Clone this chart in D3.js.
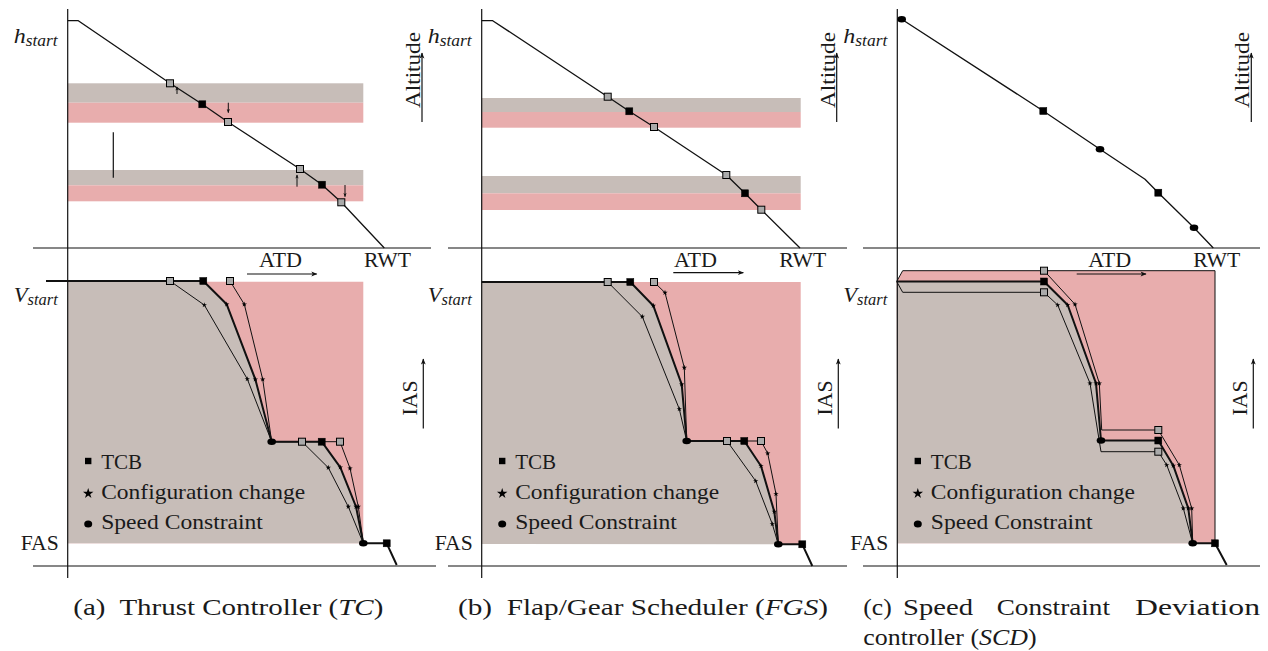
<!DOCTYPE html>
<html>
<head>
<meta charset="utf-8">
<script src="https://cdn.jsdelivr.net/npm/d3@7/dist/d3.min.js"></script>
<style>
  html, body { margin: 0; padding: 0; background: #fff; }
  svg { display: block; }
  text { font-family: "Liberation Serif", "Times New Roman", serif; fill: #1a1a1a; white-space: pre; }
</style>
</head>
<body>
<svg id="chart" width="1268" height="651"></svg>
<script>
// ---------------- DATA (ATD units along x, altitude / IAS units along y) ----------------
// Altitude profiles (top row)
const altProfileA = [[0,227.3],[10.6,227.3],[102.3,164.7],[134.6,143.7],[160.3,126],[232.3,79],[254.3,63.3],[273.6,45.7],[316.6,0]];
const altMarksA   = [[102.3,164.7,"G"],[134.6,143.7,"B"],[160.3,126,"G"],[232.3,79,"G"],[254.3,63.3,"B"],[273.6,45.7,"G"]];
const altProfileB = [[0,227.3],[11,227.3],[126,151.3],[147.6,136.7],[172.3,121],[244.6,73],[263.3,54.7],[279.6,38.3],[318.3,0]];
const altMarksB   = [[126,151.3,"G"],[147.6,136.7,"B"],[172.3,121,"G"],[244.6,73,"G"],[263.3,54.7,"B"],[279.6,38.3,"G"]];
const altProfileC = [[4.4,228.7],[146,137],[202.7,98.7],[247.7,68.7],[261,55.3],[296.7,20.3],[316,0]];
const altMarksC   = [[4.4,228.7,"C"],[146,137,"B"],[202.7,98.7,"C"],[261,55.3,"B"],[296.7,20.3,"C"]];

// Altitude bands [from, to, kind]  (kind: "before" = grey part, "after" = red part)
const bandsA = [[164.7,145.3,"before"],[145.3,125.3,"after"],[78,62.7,"before"],[62.7,46.7,"after"]];
const bandsB = [[150,136,"before"],[136,120.3,"after"],[72,54.7,"before"],[54.7,38,"after"]];
const bandEnd = [295.6, 319, 0];

// Small thrust-adjust arrows in (a): [atd, fromAlt, toAlt]
const thrustArrowsA = [[109.3,154,161],[160.6,145.3,135.3],[229.3,61.3,73],[277.3,63,51.3]];
const tickLineA = [45.6,115.7,70.3];

// IAS profiles (bottom row): [atd, ias, marker]
const iasMidA   = [[-21.7,285,""],[135.6,285,"B"],[159,261.7,"S"],[187.6,186.7,"S"],[204,124.3,"C"],[254,124.3,"B"],[272.6,98.7,"S"],[288.3,59.3,"S"],[295.6,22.7,"C"],[319,22.7,"B"],[329,1,""]];
const iasEarlyA = [[102.3,285,"G"],[136.6,261,"S"],[179.6,187,"S"],[204,124.3,""],[234.3,124.3,"G"],[260.6,98.3,"S"],[280.6,59.3,"S"],[295.6,22.7,""]];
const iasLateA  = [[162.3,285,"G"],[176.6,261.7,"S"],[195,186.7,"S"],[204,124.3,""],[272.3,124.3,"G"],[282.3,97.7,"S"],[290.6,59.3,"S"],[295.6,22.7,""]];

const iasMidB   = [[0,284,""],[148.6,284,"B"],[171.6,260.3,"S"],[200,181.7,"S"],[205,125,"C"],[262.6,125,"B"],[279.3,100,"S"],[292.6,54.3,"S"],[296.6,21.7,"C"],[320.6,21.7,"B"],[330.6,0,""]];
const iasEarlyB = [[126,284,"G"],[160.6,249.3,"S"],[197.6,157,"S"],[205,125,""],[245.3,125,"G"],[274,85,"S"],[290.6,42,"S"],[296.6,21.7,""]];
const iasLateB  = [[172.3,284,"G"],[183.3,273.3,"S"],[202.6,198.3,"S"],[205,125,""],[279.3,125,"G"],[286,112.7,"S"],[294.3,72,"S"],[296.6,21.7,""]];

const iasMidC   = [[-0.6,284.5,""],[146.7,284.5,"B"],[170.4,261,"S"],[198.7,182.7,"S"],[203.7,125.5,"C"],[261,125.5,"B"],[276,100.3,"S"],[291,57.7,"S"],[295.4,22.7,"C"],[317.7,22.7,"B"],[329.4,1,""]];
const iasUpperC = [[-0.6,284.5,""],[5.4,295.3,""],[146.7,295.3,"G"],[177.7,261.7,"S"],[202,182.7,"S"],[204.4,136,""],[261,136,"G"],[282,101,"S"],[294.4,57.7,"S"],[295.4,22.7,""]];
const iasLowerC = [[-0.6,284.5,""],[5.4,273.7,""],[146.7,273.7,"G"],[160.4,261,"S"],[192.7,182.7,"S"],[203.7,114.3,""],[261,114.3,"G"],[269.4,101,"S"],[286,57.7,"S"],[295.4,22.7,""]];
const envelopeC = [[146.7,295.3],[317.7,295.3],[317.7,22.7]];

// envelope extents per panel: [rightATD, topIAS, bottomIAS]
const envA = [295.6, 284.3, 22.7];
const envB = [319, 284, 22];
const envC = [317.7, 295.3, 22.7];

const legendLabels = ["TCB", "Configuration change", "Speed Constraint"];
const legendTypes  = ["B", "S", "C"];
const captionLetters = ["(a)", "(b)", "(c)"];
const captionTitles = ["Thrust Controller", "Flap/Gear Scheduler", "Speed Constraint Deviation controller"];
const captionAbbr = ["TC", "FGS", "SCD"];

// ---------------- DRAWING ----------------
const svg = d3.select("#chart");
const PINK = "#e8adad", GREY = "#c7bdb8";

const defs = svg.append("defs");
function mkArrow(id, len, w) {
  defs.append("marker").attr("id", id).attr("viewBox", "0 0 10 10")
    .attr("refX", 9).attr("refY", 5).attr("markerUnits", "userSpaceOnUse")
    .attr("markerWidth", len).attr("markerHeight", w).attr("orient", "auto")
    .append("path").attr("d", "M0,1 L10,5 L0,9 L2.5,5 Z").attr("fill", "#111");
}
mkArrow("ah", 7, 6);
mkArrow("ahs", 4.5, 4);

const axisX = [67.7, 481.7, 897.3];
const axisSpan = [[33, 431], [448, 847], [863, 1260]];
const yAlt = d3.scaleLinear().domain([0, 240]).range([248, 8]);
const yIas = d3.scaleLinear().domain([0, 300]).range([566, 266]);

function xs(i) { return d3.scaleLinear().domain([0, 300]).range([axisX[i], axisX[i] + 300]); }
function fit(sel, len) { return sel.attr("textLength", len).attr("lengthAdjust", "spacingAndGlyphs"); }

function poly(g, pts, x, y, fill) {
  g.append("path").attr("d", d3.line().x(d => x(d[0])).y(d => y(d[1]))(pts) + "Z")
    .attr("fill", fill).attr("stroke", "none");
}
function line(g, pts, x, y, w) {
  g.append("path").attr("d", d3.line().x(d => x(d[0])).y(d => y(d[1]))(pts))
    .attr("fill", "none").attr("stroke", "#111").attr("stroke-width", w).attr("stroke-linejoin", "round");
}
function marker(g, cx, cy, type, big) {
  if (type === "B" || type === "G") {
    const s = 7;
    g.append("rect").attr("x", cx - s / 2).attr("y", cy - s / 2).attr("width", s).attr("height", s)
      .attr("fill", type === "B" ? "#000" : "#aaaaaa").attr("stroke", "#000").attr("stroke-width", type === "B" ? 0.5 : 1);
  } else if (type === "C") {
    g.append("ellipse").attr("cx", cx).attr("cy", cy).attr("rx", big ? 4 : 4.3).attr("ry", big ? 3.6 : 3.3).attr("fill", "#000");
  } else if (type === "S") {
    g.append("path").attr("d", d3.symbol().type(d3.symbolStar).size(big ? 34 : 9)())
      .attr("transform", `translate(${cx},${cy})`).attr("fill", "#000");
  }
}
function marks(g, pts, x, y) {
  pts.forEach(p => { if (p[2]) marker(g, x(p[0]), y(p[1]), p[2], false); });
}

function label(g, x, main, sub, baseline) {
  const t = g.append("text").attr("x", x).attr("y", baseline).attr("text-anchor", "end");
  t.append("tspan").attr("font-style", "italic").attr("font-size", 22).text(main);
  t.append("tspan").attr("font-style", "italic").attr("font-size", 16).attr("dy", 2.5).text(sub);
  fit(t, 44);
}

const altProfiles = [altProfileA, altProfileB, altProfileC];
const altMarks = [altMarksA, altMarksB, altMarksC];
const bands = [bandsA, bandsB, null];
const iasMain = [iasMidA, iasMidB, iasMidC];
const iasOthers = [[iasEarlyA, iasLateA], [iasEarlyB, iasLateB], [iasUpperC, iasLowerC]];
const envs = [envA, envB, envC];
const atdLabel = [[191.3, 179.3, 249, 274], [192.3, 191.6, 261.6, 272.7], [191, 179.4, 248.7, 274]];
const rwtX = [296.3, 297.6, 296];
const altTextX = [419.5, 835, 1248.5];
const altArrowX = [422, 836.7, 1251.3];
const iasTextX = [416.5, 831.7, 1246.7];
const iasArrowX = [423.3, 838.3, 1253.3];
const legendWidths = [41, 204, 161.7];

for (let i = 0; i < 3; i++) {
  const g = svg.append("g");
  const x = xs(i);

  // ---- top: altitude bands ----
  if (bands[i]) {
    bands[i].forEach(b => {
      g.append("rect").attr("x", x(0)).attr("width", x(bandEnd[i]) - x(0))
        .attr("y", yAlt(b[0])).attr("height", yAlt(b[1]) - yAlt(b[0]))
        .attr("fill", b[2] === "before" ? GREY : PINK);
    });
  }

  // ---- bottom: IAS envelope fills ----
  const env = envs[i];
  if (i < 2) {
    poly(g, [[0, env[1]], [env[0], env[1]], [env[0], env[2]], [0, env[2]]], x, yIas, PINK);
    const mid = iasMain[i].filter(p => p[0] >= 0);
    const end = mid.findIndex(p => p[2] === "C" && p[1] < 30);
    const gp = [[0, env[1]]].concat(mid.slice(0, end + 1).map(p => [p[0], p[1]])).concat([[0, env[2]]]);
    poly(g, gp, x, yIas, GREY);
  } else {
    poly(g, [[-0.6, 284.5], [5.4, env[1]], [env[0], env[1]], [env[0], env[2]], [0, env[2]]], x, yIas, PINK);
    const mid = iasMain[i];
    const end = mid.findIndex(p => p[2] === "C" && p[1] < 30);
    const gp = mid.slice(0, end + 1).map(p => [p[0], p[1]]).concat([[0, env[2]]]);
    poly(g, gp, x, yIas, GREY);
  }

  // ---- axes ----
  g.append("line").attr("x1", axisX[i]).attr("x2", axisX[i]).attr("y1", 9).attr("y2", 578)
    .attr("stroke", "#111").attr("stroke-width", 1.2);
  [248, 566].forEach(yy => {
    g.append("line").attr("x1", axisSpan[i][0]).attr("x2", axisSpan[i][1] + (i === 0 && yy === 566 ? 5 : 0))
      .attr("y1", yy).attr("y2", yy).attr("stroke", "#111").attr("stroke-width", 1.2);
  });

  // ---- top profile ----
  line(g, altProfiles[i], x, yAlt, 1.3);
  marks(g, altMarks[i], x, yAlt);

  if (i === 0) {
    thrustArrowsA.forEach(a => {
      g.append("line").attr("x1", x(a[0])).attr("x2", x(a[0])).attr("y1", yAlt(a[1])).attr("y2", yAlt(a[2]))
        .attr("stroke", "#111").attr("stroke-width", 1).attr("marker-end", "url(#ahs)");
    });
    g.append("line").attr("x1", x(tickLineA[0])).attr("x2", x(tickLineA[0]))
      .attr("y1", yAlt(tickLineA[1])).attr("y2", yAlt(tickLineA[2])).attr("stroke", "#111").attr("stroke-width", 1.2);
  }

  // ---- bottom profiles ----
  iasOthers[i].forEach(p => line(g, p.map(d => [d[0], d[1]]), x, yIas, 1));
  if (i === 2) line(g, envelopeC, x, yIas, 1);
  line(g, iasMain[i].map(d => [d[0], d[1]]), x, yIas, 2);
  iasOthers[i].forEach(p => marks(g, p, x, yIas));
  marks(g, iasMain[i], x, yIas);

  // ---- legend ----
  const lx = axisX[i] + 20.5, ly = [461, 493.5, 524], lb = [468.5, 498.5, 528.5];
  legendTypes.forEach((t, k) => {
    if (t === "B") g.append("rect").attr("x", lx - 3.2).attr("y", ly[k] - 3.2).attr("width", 6.4).attr("height", 6.4).attr("fill", "#000");
    else marker(g, lx, ly[k], t, true);
    fit(g.append("text").attr("x", lx + 13).attr("y", lb[k]).attr("font-size", 21).text(legendLabels[k]), legendWidths[k]);
  });

  // ---- labels ----
  label(g, axisX[i] - 10, "h", "start", 43);
  label(g, axisX[i] - 10, "V", "start", 302);
  fit(g.append("text").attr("x", axisX[i] - 47).attr("y", 550).attr("font-size", 21).text("FAS"), 38);

  const al = atdLabel[i];
  fit(g.append("text").attr("x", x(al[0])).attr("y", 267).attr("font-size", 21).text("ATD"), 43);
  g.append("line").attr("x1", x(al[1])).attr("x2", x(al[2])).attr("y1", al[3]).attr("y2", al[3])
    .attr("stroke", "#111").attr("stroke-width", 1.2).attr("marker-end", "url(#ah)");
  fit(g.append("text").attr("x", x(rwtX[i])).attr("y", 267).attr("font-size", 21).text("RWT"), 47);

  fit(g.append("text").attr("transform", `translate(${altTextX[i]},70) rotate(-90)`)
    .attr("text-anchor", "middle").attr("font-size", 21).text("Altitude"), 76);
  g.append("line").attr("x1", altArrowX[i]).attr("x2", altArrowX[i]).attr("y1", 122).attr("y2", 53)
    .attr("stroke", "#111").attr("stroke-width", 1.2).attr("marker-end", "url(#ah)");

  fit(g.append("text").attr("transform", `translate(${iasTextX[i]},398) rotate(-90)`)
    .attr("text-anchor", "middle").attr("font-size", 21).text("IAS"), 35);
  g.append("line").attr("x1", iasArrowX[i]).attr("x2", iasArrowX[i]).attr("y1", 428.5).attr("y2", 359)
    .attr("stroke", "#111").attr("stroke-width", 1.2).attr("marker-end", "url(#ah)");
}

// ---------------- captions ----------------
function caption(xPos, yPos, parts, len) {
  const t = svg.append("text").attr("x", xPos).attr("y", yPos).attr("font-size", 24);
  parts.forEach(p => t.append("tspan").attr("font-style", p[1] ? "italic" : "normal").text(p[0]));
  if (len) fit(t, len);
}
caption(73.3, 615, [[captionLetters[0] + "  " + captionTitles[0] + " (", false], [captionAbbr[0], true], [")", false]], 310);
caption(458, 615, [[captionLetters[1] + "  " + captionTitles[1] + " (", false], [captionAbbr[1], true], [")", false]], 370);
// (c) justified first line
const wordsC = [captionLetters[2]].concat(captionTitles[2].split(" ").slice(0, 3));
const wordX = [863.3, 903, 996.7, 1135];
const wordW = [28.4, 70, 113.3, 125];
wordsC.forEach((w, k) => {
  fit(svg.append("text").attr("x", wordX[k]).attr("y", 615).attr("font-size", 24).text(w), wordW[k]);
});
caption(863.3, 645, [[captionTitles[2].split(" ")[3] + " (", false], [captionAbbr[2], true], [")", false]], 173.4);
</script>
</body>
</html>
